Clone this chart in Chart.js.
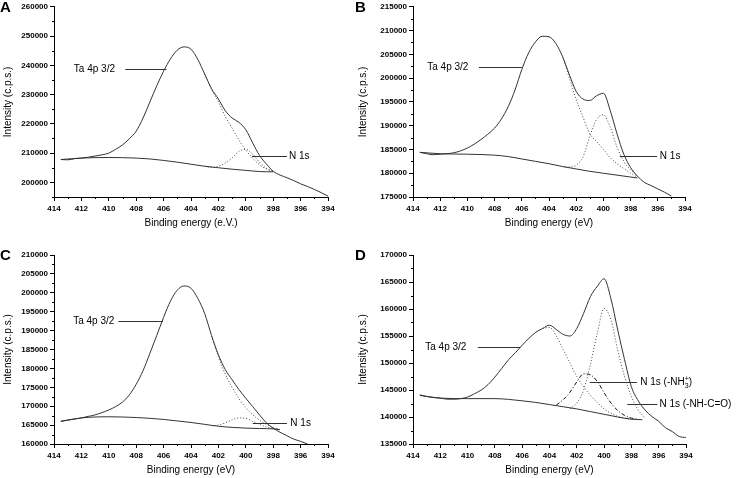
<!DOCTYPE html>
<html>
<head>
<meta charset="utf-8">
<script src="https://cdn.jsdelivr.net/npm/chart.js@4.4.1/dist/chart.umd.min.js"></script>
<style>
body { margin: 0; background: #fff; }
#wrap { position: relative; width: 738px; height: 478px; }
canvas { position: absolute; }
</style>
</head>
<body>
<div id="wrap">
  <canvas id="chartA" width="355" height="231" style="left:0;top:0"></canvas>
  <canvas id="chartB" width="383" height="231" style="left:355px;top:0"></canvas>
  <canvas id="chartC" width="355" height="238" style="left:0;top:240px"></canvas>
  <canvas id="chartD" width="383" height="238" style="left:355px;top:240px"></canvas>
</div>
<script>
// binding energy ticks (eV), shared by all panels
const xTicks = [414, 412, 410, 408, 406, 404, 402, 400, 398, 396, 394];

// ---- panel A
const eA = [413.5, 413, 412.5, 412, 411.5, 411, 410.5, 410, 409.5, 409, 408.5, 408, 407.5, 407, 406.5, 406, 405.5, 405, 404.5, 404,
  403.5, 403, 402.5, 402, 401.5, 401, 400.5, 400, 399.5, 399, 398.5, 398, 397.5, 397, 396.5, 396, 395.5, 395, 394.5, 394];
const totalA = [207800, 207700, 208100, 208300, 208600, 209000, 209400, 210000, 211300, 212800, 214900, 217500, 222000, 227500, 233000, 238000, 242200, 245200, 246300, 245500,
  242000, 237000, 232000, 228500, 224500, 222000, 220500, 218000, 213500, 209200, 206300, 203800, 202500, 201600, 200600, 199500, 198600, 197600, 196500, 195300];
const fitEA = [403, 402.5, 402, 401.5, 401, 400.5, 400, 399.5, 399, 398.5, 398];
const taA = [237000, 231800, 227500, 222500, 218500, 214500, 211000, 208300, 206000, 204600, 203700];
const n1sA = [205500, 205100, 205500, 206600, 208300, 210600, 211300, 209600, 206900, 204800, 203700];
const bgEA = [413.5, 412, 410, 408, 407, 406, 405, 404, 403, 402, 401, 400, 399, 398];
const bgA = [207800, 208300, 208500, 208300, 208000, 207500, 206900, 206200, 205500, 205000, 204500, 204100, 203700, 203600];
const yTicksA = [200000, 210000, 220000, 230000, 240000, 250000, 260000];

// ---- panel B
const eB = [413.5, 413, 412.5, 412, 411.5, 411, 410.5, 410, 409.5, 409, 408.5, 408, 407.5, 407, 406.5, 406, 405.5, 405, 404.5, 404,
  403.5, 403, 402.5, 402, 401.5, 401, 400.5, 400, 399.5, 399, 398.5, 398, 397.5, 397, 396.5, 396, 395.5, 395];
const totalB = [184400, 184100, 183900, 184000, 184100, 184300, 184700, 185300, 186100, 187100, 188200, 189500, 191400, 194000, 197500, 201800, 205300, 207600, 208800, 208700,
  207300, 204500, 200700, 197200, 195600, 195300, 196300, 196800, 193200, 188300, 184000, 181200, 179400, 178100, 177400, 176700, 176000, 175200];
const fitEB = [403, 402.5, 402, 401.5, 401, 400.5, 400, 399.5, 399, 398.5, 398, 397.5];
const taB = [204500, 200000, 195500, 191800, 188300, 186700, 185000, 183300, 182000, 181000, 180000, 179200];
const n1sB = [181400, 181300, 181700, 183400, 187800, 191300, 192300, 189700, 185500, 182500, 180700, 179400];
const bgEB = [413.5, 412, 410, 408, 407, 406, 405, 404, 403, 402, 401, 400, 399, 398, 397.5];
const bgB = [184400, 184100, 184000, 183800, 183500, 183000, 182500, 182000, 181400, 180900, 180400, 180000, 179600, 179200, 179000];
const yTicksB = [175000, 180000, 185000, 190000, 195000, 200000, 205000, 210000, 215000];

// ---- panel C
const eC = [413.5, 413, 412.5, 412, 411.5, 411, 410.5, 410, 409.5, 409, 408.5, 408, 407.5, 407, 406.5, 406, 405.5, 405, 404.5, 404,
  403.5, 403, 402.5, 402, 401.5, 401, 400.5, 400, 399.5, 399, 398.5, 398, 397.5, 397, 396.5, 396, 395.5];
const totalC = [166000, 166300, 166600, 166900, 167300, 167700, 168300, 169000, 169900, 171100, 173000, 175800, 179400, 184000, 188700, 193500, 197800, 200700, 201800, 201200,
  198500, 194500, 188700, 183600, 179700, 177000, 174400, 172100, 169900, 167700, 165600, 164200, 163100, 162200, 161300, 160700, 160000];
const fitEC = [402.5, 402, 401.5, 401, 400.5, 400, 399.5, 399, 398.5, 398, 397.5];
const taC = [188500, 183000, 178500, 175000, 172000, 169600, 167800, 166300, 165200, 164300, 163800];
const n1sC = [164800, 165000, 165600, 166400, 166900, 166800, 166000, 165200, 164500, 164100, 163900];
const bgEC = [413.5, 412, 410, 408, 406, 405, 404, 403, 402, 401, 400, 399, 398, 397.5];
const bgC = [166000, 166900, 167200, 167000, 166500, 166100, 165700, 165200, 164700, 164400, 164200, 164100, 164000, 163800];
const yTicksC = [160000, 165000, 170000, 175000, 180000, 185000, 190000, 195000, 200000, 205000, 210000];

// ---- panel D
const eD = [413.5, 413, 412.5, 412, 411.5, 411, 410.5, 410, 409.5, 409, 408.5, 408, 407.5, 407, 406.5, 406, 405.5, 405, 404.5, 404,
  403.5, 403, 402.5, 402, 401.5, 401, 400.5, 400, 399.5, 399, 398.5, 398, 397.5, 397, 396.5, 396, 395.5, 395, 394.5, 394];
const totalD = [144100, 143800, 143600, 143500, 143300, 143300, 143400, 143700, 144300, 145000, 146000, 147400, 149000, 150600, 151900, 153300, 154600, 155700, 156400, 157000,
  156200, 155300, 155000, 156400, 159200, 162300, 164200, 165600, 161900, 156100, 150600, 145600, 143000, 141300, 140100, 139200, 138000, 137300, 136400, 136200];
const fitED = [404.5, 404, 403.5, 403, 402.5, 402, 401.5, 401, 400.5, 400, 399.5, 399, 398.5, 398, 397.5, 397];
const taD = [156400, 156600, 155000, 152500, 150000, 147500, 145600, 144000, 142700, 141500, 140700, 140100, 139800, 139600, null, null];
const nh3D = [null, null, 142200, 143200, 144600, 146500, 148000, 147800, 146600, 144500, 142600, 141200, 140300, 139800, 139600, null];
const nhcoD = [null, null, null, null, 141500, 142600, 145000, 149800, 155500, 160100, 158000, 152400, 147500, 143800, 141300, 139800];
const bgED = [413.5, 412, 410, 408, 406, 405, 404, 403, 402, 401, 400, 399, 398, 397.2];
const bgD = [144000, 143500, 143400, 143400, 143000, 142700, 142300, 141900, 141500, 141000, 140500, 140000, 139600, 139500];
const yTicksD = [135000, 140000, 145000, 150000, 155000, 160000, 165000, 170000];

Chart.defaults.font.family = '"Liberation Sans", Arial, sans-serif';
Chart.defaults.color = '#000';

function pts(xs, ys) {
  return xs.map((x, i) => ({ x: x, y: ys[i] }));
}

function line(data, color, dash) {
  return {
    data: data,
    borderColor: color,
    borderWidth: 1,
    borderDash: dash || [],
    pointRadius: 0,
    fill: false,
    cubicInterpolationMode: 'monotone',
    spanGaps: false
  };
}

// minor ticks, panel letter and peak labels with leader lines
const decor = {
  id: 'decor',
  afterDraw(chart, args, opts) {
    const ctx = chart.ctx;
    const xs = chart.scales.x, ys = chart.scales.y;
    const area = chart.chartArea;
    ctx.save();
    ctx.strokeStyle = '#000';
    ctx.lineWidth = 1;
    ctx.beginPath();
    for (let i = 0; i < xTicks.length - 1; i++) {
      const px = Math.round(xs.getPixelForValue((xTicks[i] + xTicks[i + 1]) / 2)) + 0.5;
      ctx.moveTo(px, area.bottom);
      ctx.lineTo(px, area.bottom + 2);
    }
    const yt = opts.yTicks;
    const step = yt[1] - yt[0];
    for (let i = 0; i < yt.length; i++) {
      const v = yt[i] - step / 2;
      if (v < ys.min) continue;
      const py = Math.round(ys.getPixelForValue(v)) + 0.5;
      ctx.moveTo(area.left, py);
      ctx.lineTo(area.left - 2, py);
    }
    ctx.stroke();

    ctx.fillStyle = '#000';
    ctx.font = 'bold 15px "Liberation Sans", Arial, sans-serif';
    ctx.textBaseline = 'alphabetic';
    ctx.fillText(opts.letter, 0, opts.letterY);

    ctx.font = '10px "Liberation Sans", Arial, sans-serif';
    ctx.textBaseline = 'middle';
    ctx.strokeStyle = '#333';
    opts.notes.forEach(n => {
      const py = Math.round(ys.getPixelForValue(n.y)) + 0.5;
      ctx.beginPath();
      ctx.moveTo(xs.getPixelForValue(n.from), py);
      ctx.lineTo(xs.getPixelForValue(n.to), py);
      ctx.stroke();
      let tx = xs.getPixelForValue(n.at);
      ctx.fillText(n.text, tx, py);
      if (n.sub) {
        tx += ctx.measureText(n.text).width;
        ctx.font = '7px "Liberation Sans", Arial, sans-serif';
        ctx.fillText(n.sup, tx, py - 3);
        ctx.fillText(n.sub, tx, py + 4);
        tx += Math.max(ctx.measureText(n.sup).width, ctx.measureText(n.sub).width);
        ctx.font = '10px "Liberation Sans", Arial, sans-serif';
        ctx.fillText(n.tail, tx, py);
      }
    });
    ctx.restore();
  }
};

function makePanel(id, p) {
  const datasets = [line(pts(p.bgE, p.bg), '#333')];
  p.fits.forEach(f => datasets.push(line(pts(p.fitE, f.values), f.color, f.dash)));
  datasets.push(line(pts(p.e, p.total), '#333'));

  return new Chart(document.getElementById(id), {
    type: 'line',
    data: { datasets: datasets },
    options: {
      responsive: false,
      animation: false,
      layout: { padding: { top: p.padTop, right: p.padRight, left: 0, bottom: 0 } },
      scales: {
        x: {
          type: 'linear',
          reverse: true,
          min: 394,
          max: 414,
          afterBuildTicks: s => { s.ticks = xTicks.map(v => ({ value: v })); },
          afterFit: s => { s.height = 34; },
          ticks: { font: { size: 8, weight: 'bold' }, padding: 3, maxRotation: 0, callback: v => String(v) },
          grid: { display: true, drawOnChartArea: false, tickLength: 4, color: '#000' },
          border: { display: true, color: '#000', width: 1 },
          title: { display: true, text: p.xTitle, font: { size: 10 }, padding: { top: 0, bottom: 2 } }
        },
        y: {
          type: 'linear',
          min: p.yMin,
          max: p.yMax,
          afterBuildTicks: s => { s.ticks = p.yTicks.map(v => ({ value: v })); },
          afterFit: s => { s.width = p.yWidth; },
          ticks: { font: { size: 8, weight: 'bold' }, padding: 2, callback: v => String(v) },
          grid: { display: true, drawOnChartArea: false, tickLength: 4, color: '#000' },
          border: { display: true, color: '#000', width: 1 },
          title: { display: true, text: 'Intensity (c.p.s.)', font: { size: 10 }, padding: { top: 2, bottom: 0 } }
        }
      },
      plugins: {
        legend: { display: false },
        tooltip: { enabled: false },
        decor: { letter: p.letter, letterY: p.letterY, yTicks: p.yTicks, notes: p.notes }
      }
    },
    plugins: [decor]
  });
}

const dotted = [1, 2];

makePanel('chartA', {
  letter: 'A', letterY: 12, padTop: 6, padRight: 27, yWidth: 54,
  xTitle: 'Binding energy (e.V.)', yMin: 195000, yMax: 260000, yTicks: yTicksA,
  e: eA, total: totalA, bgE: bgEA, bg: bgA, fitE: fitEA,
  fits: [{ values: taA, color: '#444', dash: dotted }, { values: n1sA, color: '#444', dash: dotted }],
  notes: [
    { text: 'Ta 4p 3/2', at: 412.55, from: 408.8, to: 405.8, y: 238900 },
    { text: 'N 1s', at: 396.85, from: 399.55, to: 397.0, y: 208900 }
  ]
});

makePanel('chartB', {
  letter: 'B', letterY: 12, padTop: 6, padRight: 53, yWidth: 58,
  xTitle: 'Binding energy (eV)', yMin: 175000, yMax: 215000, yTicks: yTicksB,
  e: eB, total: totalB, bgE: bgEB, bg: bgB, fitE: fitEB,
  fits: [{ values: taB, color: '#444', dash: dotted }, { values: n1sB, color: '#444', dash: dotted }],
  notes: [
    { text: 'Ta 4p 3/2', at: 412.95, from: 409.15, to: 406.0, y: 202400 },
    { text: 'N 1s', at: 395.85, from: 398.8, to: 396.05, y: 183600 }
  ]
});

makePanel('chartC', {
  letter: 'C', letterY: 20, padTop: 15, padRight: 27, yWidth: 54,
  xTitle: 'Binding energy (eV)', yMin: 160000, yMax: 210000, yTicks: yTicksC,
  e: eC, total: totalC, bgE: bgEC, bg: bgC, fitE: fitEC,
  fits: [{ values: taC, color: '#444', dash: dotted }, { values: n1sC, color: '#444', dash: dotted }],
  notes: [
    { text: 'Ta 4p 3/2', at: 412.6, from: 409.3, to: 406.05, y: 192500 },
    { text: 'N 1s', at: 396.75, from: 399.5, to: 397.0, y: 165600 }
  ]
});

makePanel('chartD', {
  letter: 'D', letterY: 20, padTop: 15, padRight: 52, yWidth: 58,
  xTitle: 'Binding energy (eV)', yMin: 135000, yMax: 170000, yTicks: yTicksD,
  e: eD, total: totalD, bgE: bgED, bg: bgD, fitE: fitED,
  fits: [
    { values: taD, color: '#444', dash: dotted },
    { values: nh3D, color: '#111', dash: [4, 2, 1, 2] },
    { values: nhcoD, color: '#444', dash: dotted }
  ],
  notes: [
    { text: 'Ta 4p 3/2', at: 413.1, from: 409.25, to: 406.15, y: 153000 },
    { text: 'N 1s (-NH', sub: '3', sup: '+', tail: ')', at: 397.35, from: 401.05, to: 397.6, y: 146500 },
    { text: 'N 1s (-NH-C=O)', at: 395.95, from: 398.3, to: 396.1, y: 142400 }
  ]
});
</script>
</body>
</html>
